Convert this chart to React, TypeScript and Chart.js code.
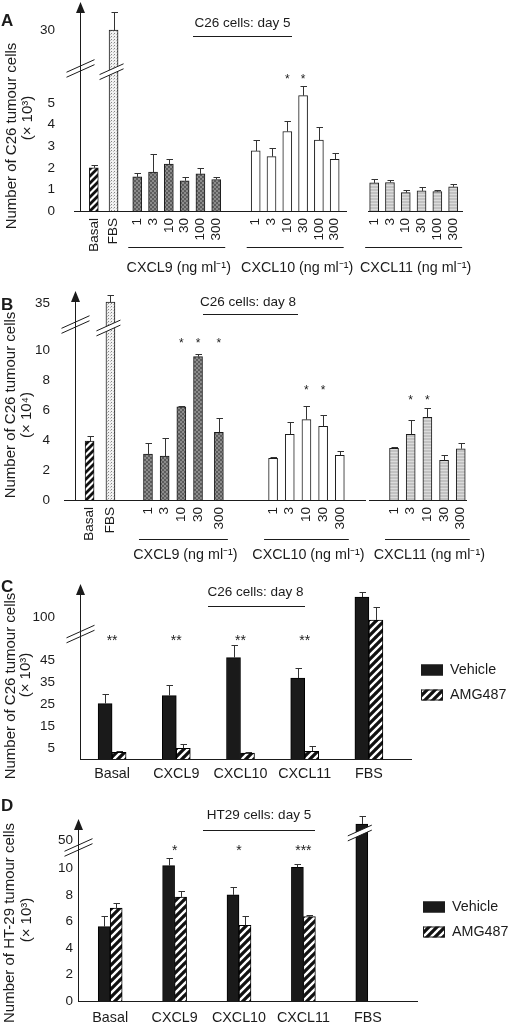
import React, { useEffect, useRef } from 'react';
import { Chart, registerables, LinearScale } from 'chart.js';

Chart.register(...registerables);

const FONT_FAMILY = "'Liberation Sans', Arial, Helvetica, sans-serif";
const INK = '#1b1b1b';
const TICK_FS = 13.5;
const CAPTION_FS = 14.3;
const TITLE_FS = 15;
Chart.defaults.font.family = FONT_FAMILY;
Chart.defaults.color = INK;

/* ------------------------------------------------------------------ */
/* Data                                           */
/* ------------------------------------------------------------------ */

// Panel A — C26 cells: day 5 (× 10³)
const controlLabels = ['Basal', 'FBS'];
const concA = ['1', '3', '10', '30', '100', '300'];
const controlA = [2.0, 30];
const controlErrA = [0.12, 2.8];
const cxcl9A = [1.58, 1.8, 2.17, 1.4, 1.72, 1.46];
const cxcl9ErrA = [0.19, 0.84, 0.24, 0.18, 0.25, 0.12];
const cxcl10A = [2.78, 2.52, 3.68, 5.34, 3.28, 2.39];
const cxcl10ErrA = [0.51, 0.41, 0.5, 0.44, 0.6, 0.31];
const cxcl11A = [1.3, 1.32, 0.85, 0.93, 0.9, 1.12];
const cxcl11ErrA = [0.18, 0.11, 0.14, 0.17, 0.09, 0.12];
const sig9A = ['', '', '', '', '', ''];
const sig10A = ['', '', '*', '*', '', ''];
const sig11A = ['', '', '', '', '', ''];
const yTicksA = [0, 1, 2, 3, 4, 5, 30];

// Panel B — C26 cells: day 8 (× 10⁴)
const concB = ['1', '3', '10', '30', '300'];
const controlB = [3.93, 35.2];
const controlErrB = [0.35, 1.7];
const cxcl9B = [3.07, 2.93, 6.22, 9.56, 4.51];
const cxcl9ErrB = [0.75, 1.22, 0.07, 0.17, 0.95];
const cxcl10B = [2.78, 4.38, 5.36, 4.91, 2.98];
const cxcl10ErrB = [0.11, 0.8, 0.93, 0.73, 0.29];
const cxcl11B = [3.44, 4.38, 5.51, 2.64, 3.42];
const cxcl11ErrB = [0.12, 0.95, 0.6, 0.36, 0.36];
const sig9B = ['', '', '*', '*', '*'];
const sig10B = ['', '', '*', '*', ''];
const sig11B = ['', '*', '*', '', ''];
const yTicksB = [0, 2, 4, 6, 8, 10, 35];

// Panels C and D — Vehicle vs AMG487
const groupsCD = ['Basal', 'CXCL9', 'CXCL10', 'CXCL11', 'FBS'];
const seriesNames = ['Vehicle', 'AMG487'];

const vehicleC = [25.2, 28.8, 46.1, 36.8, 122.75];
const vehicleErrC = [4.3, 4.8, 5.9, 4.6, 5.75];
const amgC = [3.0, 4.85, 2.7, 3.5, 96.75];
const amgErrC = [0.6, 1.8, 0.3, 2.6, 14.75];
const sigC = ['**', '**', '**', '**', ''];
const yTicksC = [5, 15, 25, 35, 45, 100];

const vehicleD = [5.6, 10.2, 8.0, 10.08, 56];
const vehicleErrD = [0.8, 0.55, 0.57, 0.22, 3.0];
const amgD = [7.0, 7.84, 5.7, 6.36, null];
const amgErrD = [0.36, 0.46, 0.7, 0.12, null];
const sigD = ['', '*', '*', '***', ''];
const yTicksD = [0, 2, 4, 6, 8, 10, 50];

/* ------------------------------------------------------------------ */
/* Broken (piecewise) value axes                                       */
/* ------------------------------------------------------------------ */

function piecewise(pts: number[][]) {
  return (v: number) => {
    for (let i = 1; i < pts.length; i++) {
      if (v <= pts[i][0] || i === pts.length - 1) {
        const a = pts[i - 1];
        const b = pts[i];
        return a[1] + ((v - a[0]) * (b[1] - a[1])) / (b[0] - a[0]);
      }
    }
    return v;
  };
}

function registerBrokenScale(scaleId: string, pts: number[][], tickValues: number[]) {
  const map = piecewise(pts);
  class BrokenScale extends LinearScale {
    static id = scaleId;
    static defaults = LinearScale.defaults;
    buildTicks() {
      return tickValues.map((value) => ({ value }));
    }
    getPixelForValue(value: any) {
      if (value === null || value === undefined || Number.isNaN(value)) return NaN;
      return super.getPixelForValue(map(value));
    }
  }
  Chart.register(BrokenScale as any);
  return scaleId;
}

const scaleA = registerBrokenScale('brokenA', [[0, 0], [6.6, 6.6], [25, 6.88], [35, 9.88]], yTicksA);
const scaleB = registerBrokenScale('brokenB', [[0, 0], [11.8, 11.8], [31, 11.93], [40, 14.63]], yTicksB);
const scaleC = registerBrokenScale('brokenC', [[0, 0], [57, 57], [84, 58.1], [140, 80.5]], yTicksC);
const scaleD = registerBrokenScale('brokenD', [[0, 0], [11.6, 11.6], [48, 11.74], [60, 14.14]], yTicksD);

/* ------------------------------------------------------------------ */
/* Fills                                                               */
/* ------------------------------------------------------------------ */

type FillKey = 'hatch' | 'hatchWide' | 'stipple' | 'dark' | 'light' | 'white' | 'black';
const patternCache: Record<string, any> = {};

function fillFor(key: FillKey): any {
  if (key === 'white') return '#ffffff';
  if (key === 'black') return '#1a1a1a';
  if (patternCache[key]) return patternCache[key];
  const c = document.createElement('canvas');
  const g = c.getContext('2d') as CanvasRenderingContext2D;
  if (key === 'hatch' || key === 'hatchWide') {
    const s = key === 'hatch' ? 7 : 8;
    c.width = s;
    c.height = s;
    g.fillStyle = '#fff';
    g.fillRect(0, 0, s, s);
    g.strokeStyle = '#111';
    g.lineWidth = key === 'hatch' ? 2.8 : 3.2;
    g.beginPath();
    for (const o of [-s, 0, s]) {
      g.moveTo(o - 1, s + 1);
      g.lineTo(o + s + 1, -1);
    }
    g.stroke();
  } else if (key === 'stipple') {
    c.width = 3;
    c.height = 3;
    g.fillStyle = '#f1f1f1';
    g.fillRect(0, 0, 3, 3);
    g.fillStyle = '#868686';
    g.fillRect(0, 0, 1, 1);
    g.fillStyle = '#c0c0c0';
    g.fillRect(2, 1, 1, 1);
  } else if (key === 'dark') {
    c.width = 4;
    c.height = 4;
    g.fillStyle = '#5c5c5c';
    g.fillRect(0, 0, 4, 4);
    g.fillStyle = '#8c8c8c';
    g.fillRect(0, 0, 2, 2);
    g.fillRect(2, 2, 2, 2);
  } else if (key === 'light') {
    c.width = 3;
    c.height = 3;
    g.fillStyle = '#c2c2c2';
    g.fillRect(0, 0, 3, 3);
    g.fillStyle = '#dcdcdc';
    g.fillRect(0, 2, 3, 1);
  }
  patternCache[key] = g.createPattern(c, 'repeat');
  return patternCache[key];
}

/* ------------------------------------------------------------------ */
/* Drawing helpers                                                     */
/* ------------------------------------------------------------------ */

const fontStr = (size: number, bold = false) => `${bold ? 'bold ' : ''}${size}px ${FONT_FAMILY}`;

function text(ctx: CanvasRenderingContext2D, s: string, x: number, y: number, size: number, align: CanvasTextAlign = 'center', bold = false, rotate = 0) {
  ctx.save();
  ctx.font = fontStr(size, bold);
  ctx.fillStyle = INK;
  ctx.textAlign = align;
  ctx.textBaseline = 'middle';
  ctx.translate(x, y);
  if (rotate) ctx.rotate(rotate);
  ctx.fillText(s, 0, 0);
  ctx.restore();
}

function hline(ctx: CanvasRenderingContext2D, x0: number, x1: number, y: number) {
  const yy = Math.round(y) + 0.5;
  ctx.beginPath();
  ctx.moveTo(x0, yy);
  ctx.lineTo(x1, yy);
  ctx.stroke();
}

function breakMark(ctx: CanvasRenderingContext2D, cx: number, cy: number, half: number, gapFill: boolean) {
  const dy = half * 0.45;
  const sep = 5;
  if (gapFill) {
    ctx.fillStyle = '#fff';
    ctx.beginPath();
    ctx.moveTo(cx - half, cy + dy - sep / 2);
    ctx.lineTo(cx + half, cy - dy - sep / 2);
    ctx.lineTo(cx + half, cy - dy + sep / 2);
    ctx.lineTo(cx - half, cy + dy + sep / 2);
    ctx.closePath();
    ctx.fill();
  }
  ctx.beginPath();
  for (const o of [-sep / 2, sep / 2]) {
    ctx.moveTo(cx - half, cy + dy + o);
    ctx.lineTo(cx + half, cy - dy + o);
  }
  ctx.stroke();
}

const errorBarPlugin = {
  id: 'errorBars',
  afterDatasetsDraw(chart: any) {
    const { ctx } = chart;
    const yScale = chart.scales.y;
    ctx.save();
    ctx.strokeStyle = '#333';
    ctx.lineWidth = 1;
    chart.data.datasets.forEach((ds: any, di: number) => {
      const errs = ds.errors;
      if (!errs) return;
      const meta = chart.getDatasetMeta(di);
      meta.data.forEach((el: any, i: number) => {
        const v = ds.data[i];
        const e = errs[i];
        if (v == null || e == null || !e) return;
        const x = Math.round(el.x) + 0.5;
        const yt = Math.round(yScale.getPixelForValue(v + e)) + 0.5;
        ctx.beginPath();
        ctx.moveTo(x, el.y);
        ctx.lineTo(x, yt);
        ctx.moveTo(x - 3, yt);
        ctx.lineTo(x + 3.5, yt);
        ctx.stroke();
      });
    });
    ctx.restore();
  },
};

type TextSpec = { text: string; x: number; y: number };
type Decor = {
  letter: TextSpec;
  yTitle: TextSpec[];
  header: TextSpec & { lineY: number; x0: number; x1: number };
  axisBreak: number;
  barBreaks: { dataset: number; index: number; at: number }[];
  baseline: number[][];
  bracket?: { lineY: number; textY: number; pad: number };
  groups?: any[];
  legend?: { x: number; ys: number[] };
  categorySig?: string[];
  categoryStarY?: number;
  starSize: number;
};

function decorPlugin(d: Decor) {
  return {
    id: 'figureDecor',
    afterDraw(chart: any) {
      const { ctx, chartArea } = chart;
      const xs = chart.scales.x;
      const ys = chart.scales.y;
      ctx.save();
      ctx.strokeStyle = INK;
      ctx.fillStyle = INK;
      ctx.lineWidth = 1;
      const ax = Math.round(chartArea.left) + 0.5;

      // arrow head on the value axis
      ctx.beginPath();
      ctx.moveTo(ax, chartArea.top - 1);
      ctx.lineTo(ax - 4.5, chartArea.top + 10);
      ctx.lineTo(ax + 4.5, chartArea.top + 10);
      ctx.closePath();
      ctx.fill();

      // baseline
      const y0 = ys.getPixelForValue(0);
      d.baseline.forEach(([a, b]) => hline(ctx, a, b, y0));

      // axis break
      ctx.strokeStyle = INK;
      breakMark(ctx, ax, ys.getPixelForValue(d.axisBreak), 14, false);

      // bar breaks
      d.barBreaks.forEach((bb) => {
        const el = chart.getDatasetMeta(bb.dataset).data[bb.index];
        ctx.strokeStyle = INK;
        breakMark(ctx, el.x - 2, ys.getPixelForValue(bb.at), 12, true);
      });

      // panel letter, titles, header
      text(ctx, d.letter.text, d.letter.x, d.letter.y, 17, 'left', true);
      d.yTitle.forEach((t) => text(ctx, t.text, t.x, t.y, TITLE_FS, 'center', false, -Math.PI / 2));
      text(ctx, d.header.text, d.header.x, d.header.y, TICK_FS);
      ctx.strokeStyle = INK;
      hline(ctx, d.header.x0, d.header.x1, d.header.lineY);

      // group brackets, captions and significance stars (slot panels)
      (d.groups || []).forEach((g: any) => {
        const first = xs.getPixelForValue(g.slots[0]);
        const last = xs.getPixelForValue(g.slots[g.slots.length - 1]);
        if (g.caption && d.bracket) {
          hline(ctx, first - d.bracket.pad, last + d.bracket.pad, d.bracket.lineY);
          text(ctx, g.caption, (first + last) / 2 + 2, d.bracket.textY, CAPTION_FS);
        }
        g.sig.forEach((s: string, i: number) => {
          if (!s) return;
          ctx.save();
          ctx.font = fontStr(d.starSize);
          ctx.textAlign = 'center';
          ctx.textBaseline = 'alphabetic';
          ctx.fillStyle = INK;
          ctx.fillText(s, xs.getPixelForValue(g.slots[i]), g.starY + 0.59 * d.starSize);
          ctx.restore();
        });
      });

      // significance stars (category panels)
      (d.categorySig || []).forEach((s, i) => {
        if (!s) return;
        ctx.save();
        ctx.font = fontStr(d.starSize);
        ctx.textAlign = 'center';
        ctx.textBaseline = 'alphabetic';
        ctx.fillStyle = INK;
        ctx.fillText(s, xs.getPixelForValue(i), (d.categoryStarY || 0) + 0.59 * d.starSize);
        ctx.restore();
      });

      // legend
      if (d.legend) {
        chart.data.datasets.forEach((ds: any, i: number) => {
          const y = d.legend!.ys[i];
          ctx.fillStyle = ds.backgroundColor;
          ctx.fillRect(d.legend!.x, y - 5.5, 22, 11);
          ctx.strokeStyle = INK;
          ctx.strokeRect(d.legend!.x + 0.5, y - 5, 21, 10);
          text(ctx, ds.label, d.legend!.x + 29, y, CAPTION_FS, 'left');
        });
      }
      ctx.restore();
    },
  };
}

/* ------------------------------------------------------------------ */
/* Panel builders                                                      */
/* ------------------------------------------------------------------ */

type Frame = { height: number; left: number; right: number; top: number; bottom: number };
const FIG_W = 509;

function buildSlotPanel(canvas: HTMLCanvasElement, spec: any) {
  const n = spec.nSlots;
  const labels: string[] = new Array(n).fill('');
  const values: (number | null)[] = new Array(n).fill(null);
  const errors: (number | null)[] = new Array(n).fill(null);
  const fills: any[] = new Array(n).fill('#ffffff');
  spec.groups.forEach((g: any) => {
    g.labels.forEach((lab: string, i: number) => {
      const s = g.slots[i];
      labels[s] = lab;
      values[s] = g.values[i];
      errors[s] = g.errors[i];
      fills[s] = fillFor(g.fills[i]);
    });
  });
  const f: Frame = spec.frame;
  return new Chart(canvas, {
    type: 'bar',
    data: {
      labels,
      datasets: [
        {
          data: values,
          errors,
          backgroundColor: fills,
          borderColor: INK,
          borderWidth: 1,
          barThickness: spec.barThickness,
        } as any,
      ],
    },
    options: {
      animation: false,
      responsive: false,
      devicePixelRatio: 1,
      layout: { padding: { top: f.top, right: FIG_W - f.right, bottom: 0, left: 0 } },
      plugins: { legend: { display: false }, tooltip: { enabled: false } },
      scales: {
        x: {
          type: 'category',
          offset: true,
          grid: { display: false, drawTicks: false },
          border: { display: false },
          ticks: { autoSkip: false, maxRotation: 90, minRotation: 90, padding: 7, color: INK, font: { size: TICK_FS } },
          afterFit: (s: any) => {
            s.height = f.height - f.bottom;
            s.paddingLeft = 0;
            s.paddingRight = 0;
          },
        },
        y: {
          type: spec.scaleId,
          min: 0,
          max: spec.yMax,
          grid: { display: false, drawTicks: false },
          border: { display: true, color: INK, width: 1 },
          ticks: { autoSkip: false, padding: spec.tickPad, color: INK, font: { size: TICK_FS }, callback: (v: any) => String(v) },
          afterFit: (s: any) => {
            s.width = f.left;
            s.paddingTop = 0;
            s.paddingBottom = 0;
          },
        },
      } as any,
    },
    plugins: [errorBarPlugin, decorPlugin({ ...spec.decor, groups: spec.groups })],
  });
}

function buildGroupedPanel(canvas: HTMLCanvasElement, spec: any) {
  const f: Frame = spec.frame;
  return new Chart(canvas, {
    type: 'bar',
    data: {
      labels: groupsCD,
      datasets: [
        { label: seriesNames[0], data: spec.vehicle, errors: spec.vehicleErr, backgroundColor: fillFor('black'), borderColor: '#000', borderWidth: 1, barThickness: spec.barThickness } as any,
        { label: seriesNames[1], data: spec.amg, errors: spec.amgErr, backgroundColor: fillFor('hatchWide'), borderColor: '#000', borderWidth: 1, barThickness: spec.barThickness } as any,
      ],
    },
    options: {
      animation: false,
      responsive: false,
      devicePixelRatio: 1,
      layout: { padding: { top: f.top, right: FIG_W - f.right, bottom: 0, left: 0 } },
      plugins: { legend: { display: false }, tooltip: { enabled: false } },
      scales: {
        x: {
          type: 'category',
          offset: true,
          grid: { display: false, drawTicks: false },
          border: { display: false },
          ticks: { autoSkip: false, maxRotation: 0, minRotation: 0, padding: spec.labelPad, color: INK, font: { size: CAPTION_FS } },
          afterFit: (s: any) => {
            s.height = f.height - f.bottom;
            s.paddingLeft = 0;
            s.paddingRight = 0;
          },
        },
        y: {
          type: spec.scaleId,
          min: 0,
          max: spec.yMax,
          grid: { display: false, drawTicks: false },
          border: { display: true, color: INK, width: 1 },
          ticks: { autoSkip: false, padding: spec.tickPad, color: INK, font: { size: TICK_FS }, callback: (v: any) => String(v) },
          afterFit: (s: any) => {
            s.width = f.left;
            s.paddingTop = 0;
            s.paddingBottom = 0;
          },
        },
      } as any,
    },
    plugins: [errorBarPlugin, decorPlugin(spec.decor)],
  });
}

/* ------------------------------------------------------------------ */
/* Layout                                                              */
/* ------------------------------------------------------------------ */

const PANEL_TOPS = [0, 285, 565, 780];
const PANEL_HEIGHTS = [285, 280, 215, 244];

const step4 = (start: number, count: number) => Array.from({ length: count }, (_, i) => start + 4 * i);

function panelA(canvas: HTMLCanvasElement) {
  const groups = [
    { labels: controlLabels, values: controlA, errors: controlErrA, sig: ['', ''], fills: ['hatch', 'stipple'], slots: [3, 8] },
    { labels: concA, values: cxcl9A, errors: cxcl9ErrA, sig: sig9A, fills: concA.map(() => 'dark'), slots: step4(14, 6), caption: 'CXCL9 (ng ml⁻¹)', starY: 76 },
    { labels: concA, values: cxcl10A, errors: cxcl10ErrA, sig: sig10A, fills: concA.map(() => 'white'), slots: step4(44, 6), caption: 'CXCL10 (ng ml⁻¹)', starY: 76 },
    { labels: concA, values: cxcl11A, errors: cxcl11ErrA, sig: sig11A, fills: concA.map(() => 'light'), slots: step4(74, 6), caption: 'CXCL11 (ng ml⁻¹)', starY: 76 },
  ];
  return buildSlotPanel(canvas, {
    nSlots: 97,
    groups,
    barThickness: 9,
    scaleId: scaleA,
    yMax: 9.63,
    tickPad: 25,
    frame: { height: 285, left: 80, right: 463, top: 3, bottom: 211 },
    decor: {
      letter: { text: 'A', x: 1, y: 21 },
      yTitle: [
        { text: 'Number of C26 tumour cells', x: 12, y: 136 },
        { text: '(× 10³)', x: 28, y: 118 },
      ],
      header: { text: 'C26 cells: day 5', x: 242.5, y: 23, lineY: 36, x0: 193, x1: 292 },
      axisBreak: 6.6,
      barBreaks: [{ dataset: 0, index: 8, at: 6.45 }],
      baseline: [[74, 347], [368, 463]],
      bracket: { lineY: 247, textY: 268, pad: 9 },
      starSize: 12,
    },
  });
}

function panelB(canvas: HTMLCanvasElement) {
  const offs = [0, 4, 8, 12, 17];
  const groups = [
    { labels: controlLabels, values: controlB, errors: controlErrB, sig: ['', ''], fills: ['hatch', 'stipple'], slots: [3, 8] },
    { labels: concB, values: cxcl9B, errors: cxcl9ErrB, sig: sig9B, fills: concB.map(() => 'dark'), slots: offs.map((o) => 17 + o), caption: 'CXCL9 (ng ml⁻¹)', starY: 55 },
    { labels: concB, values: cxcl10B, errors: cxcl10ErrB, sig: sig10B, fills: concB.map(() => 'white'), slots: step4(47, 5), caption: 'CXCL10 (ng ml⁻¹)', starY: 102 },
    { labels: concB, values: cxcl11B, errors: cxcl11ErrB, sig: sig11B, fills: concB.map(() => 'light'), slots: step4(76, 5), caption: 'CXCL11 (ng ml⁻¹)', starY: 112 },
  ];
  return buildSlotPanel(canvas, {
    nSlots: 94,
    groups,
    barThickness: 9,
    scaleId: scaleB,
    yMax: 13.87,
    tickPad: 25,
    frame: { height: 280, left: 75, right: 467, top: 7, bottom: 215 },
    decor: {
      letter: { text: 'B', x: 1, y: 20 },
      yTitle: [
        { text: 'Number of C26 tumour cells', x: 11, y: 120 },
        { text: '(× 10⁴)', x: 27, y: 130 },
      ],
      header: { text: 'C26 cells: day 8', x: 248, y: 17, lineY: 29, x0: 203, x1: 298 },
      axisBreak: 11.7,
      barBreaks: [{ dataset: 0, index: 8, at: 11.47 }],
      baseline: [[64, 366], [369, 467]],
      bracket: { lineY: 254, textY: 270, pad: 9 },
      starSize: 12,
    },
  });
}

function panelC(canvas: HTMLCanvasElement) {
  return buildGroupedPanel(canvas, {
    vehicle: vehicleC,
    vehicleErr: vehicleErrC,
    amg: amgC,
    amgErr: amgErrC,
    barThickness: 14,
    scaleId: scaleC,
    yMax: 79.09,
    tickPad: 25,
    labelPad: 6,
    frame: { height: 215, left: 80, right: 401, top: 20, bottom: 194 },
    decor: {
      letter: { text: 'C', x: 1, y: 22 },
      yTitle: [
        { text: 'Number of C26 tumour cells', x: 11, y: 121 },
        { text: '(× 10³)', x: 26, y: 110 },
      ],
      header: { text: 'C26 cells: day 8', x: 255.5, y: 27, lineY: 41, x0: 208, x1: 305 },
      axisBreak: 56.8,
      barBreaks: [],
      baseline: [[80, 412]],
      legend: { x: 421, ys: [105, 130] },
      categorySig: sigC,
      categoryStarY: 72,
      starSize: 14,
    },
  });
}

function panelD(canvas: HTMLCanvasElement) {
  return buildGroupedPanel(canvas, {
    vehicle: vehicleD,
    vehicleErr: vehicleErrD,
    amg: amgD,
    amgErr: amgErrD,
    barThickness: 12,
    scaleId: scaleD,
    yMax: 13.64,
    tickPad: 5,
    labelPad: 8,
    frame: { height: 244, left: 78, right: 400, top: 40, bottom: 221 },
    decor: {
      letter: { text: 'D', x: 1, y: 26 },
      yTitle: [
        { text: 'Number of HT-29 tumour cells', x: 10, y: 143 },
        { text: '(× 10³)', x: 27, y: 140 },
      ],
      header: { text: 'HT29 cells: day 5', x: 259, y: 35, lineY: 50, x0: 203, x1: 315 },
      axisBreak: 11.57,
      barBreaks: [{ dataset: 0, index: 4, at: 52.6 }],
      baseline: [[78, 418]],
      legend: { x: 423, ys: [127, 152] },
      categorySig: sigD,
      categoryStarY: 67,
      starSize: 14,
    },
  });
}

export default function App() {
  const refs = [useRef<HTMLCanvasElement>(null), useRef<HTMLCanvasElement>(null), useRef<HTMLCanvasElement>(null), useRef<HTMLCanvasElement>(null)];
  useEffect(() => {
    document.body.style.margin = '0';
    const builders = [panelA, panelB, panelC, panelD];
    const charts = builders.map((b, i) => b(refs[i].current as HTMLCanvasElement));
    return () => charts.forEach((c) => c.destroy());
  }, []);
  return (
    <div style={{ position: 'relative', width: FIG_W, height: 1024, background: '#fff', overflow: 'hidden' }}>
      {refs.map((r, i) => (
        <canvas
          key={i}
          ref={r}
          width={FIG_W}
          height={PANEL_HEIGHTS[i]}
          style={{ position: 'absolute', left: 0, top: PANEL_TOPS[i], width: FIG_W, height: PANEL_HEIGHTS[i] }}
        />
      ))}
    </div>
  );
}
